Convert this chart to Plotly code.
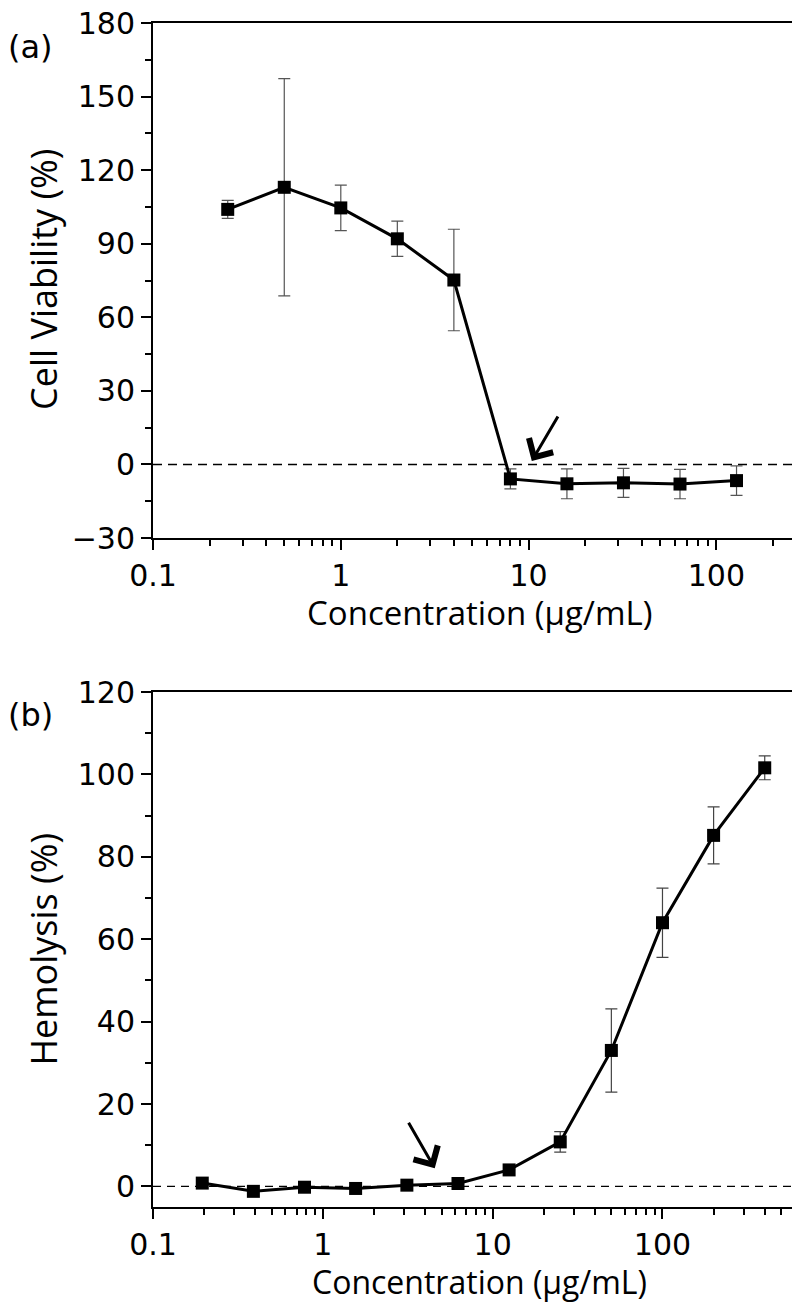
import numpy as np
import plotly.graph_objects as go

# ---------------- data ----------------
# (a) cell viability
conc_a = [0.25, 0.5, 1, 2, 4, 8, 16, 32, 64, 128]
viab = [104, 113, 104.6, 92, 75.2, -5.9, -7.9, -7.5, -8.0, -6.6]
viab_err = [3.7, 44.3, 9.3, 7.2, 20.7, 4.1, 6.1, 5.9, 6.0, 6.0]

# (b) hemolysis
conc_b = [0.195, 0.39, 0.78, 1.56, 3.125, 6.25, 12.5, 25, 50, 100, 200, 400]
hemo = [0.8, -1.2, -0.2, -0.5, 0.3, 0.7, 4.0, 10.8, 33.0, 64.0, 85.2, 101.6]
hemo_err = [0, 0, 0, 0, 0, 0, 0, 2.5, 10.1, 8.4, 6.9, 2.9]

x_tickvals = [0.1, 1, 10, 100]
x_ticktext = ["0.1", "1", "10", "100"]

TICK_FONT = dict(family="DejaVu Sans, Liberation Sans, sans-serif", size=30, color="black")
XTITLE_FONT = dict(family="Open Sans, Noto Sans, sans-serif", size=33, color="black")
XTITLE_FONT_B = dict(family="Open Sans, Noto Sans, sans-serif", size=32, color="black")
YTITLE_FONT = dict(family="Open Sans, Noto Sans, sans-serif", size=36, color="black")
PANEL_FONT = dict(family="DejaVu Sans, Liberation Sans, sans-serif", size=32, color="black")

W, H = 800, 1303
ML, MR, MT, MB = 145, 2, 15, 104
PW, PH = W - ML - MR, H - MT - MB


def px_x(px):
    return (px - ML) / PW


def px_y(py):
    return (H - MB - py) / PH


fig = go.Figure()

common_trace = dict(
    mode="lines+markers",
    line=dict(color="black", width=3),
    marker=dict(symbol="square", size=13, color="black"),
    showlegend=False,
)

fig.add_trace(go.Scatter(
    x=conc_a, y=viab,
    error_y=dict(type="data", array=viab_err, visible=True, color="#555", thickness=1.2, width=6),
    xaxis="x", yaxis="y", **common_trace))

fig.add_trace(go.Scatter(
    x=conc_b, y=hemo,
    error_y=dict(type="data", array=hemo_err, visible=True, color="#444", thickness=1.2, width=6),
    xaxis="x2", yaxis="y2", **common_trace))

ax_common = dict(
    showline=True, linecolor="black", linewidth=2, mirror=True,
    ticks="outside", ticklen=10, tickwidth=2, tickcolor="black",
    showgrid=False, zeroline=False, tickfont=TICK_FONT, automargin=False,
    ticklabeloverflow="allow",
)

BOT_TOP, BOT_BOTTOM = 684, 1199
top_dom = [px_y(530), px_y(15)]
bot_dom = [px_y(BOT_BOTTOM), px_y(BOT_TOP)]

minor_x = dict(ticks="outside", ticklen=6, tickwidth=2, tickcolor="black", dtick="D1")

fig.update_layout(
    width=W, height=H,
    margin=dict(l=ML, r=MR, t=MT, b=MB, autoexpand=False),
    paper_bgcolor="white", plot_bgcolor="white",
    xaxis=dict(type="log", range=[-1, np.log10(300)], domain=[0, 1], anchor="y",
               tickvals=x_tickvals, ticktext=x_ticktext, minor=minor_x, **ax_common),
    yaxis=dict(range=[-30, 180], domain=top_dom, anchor="x", dtick=30, tick0=0,
               minor=dict(ticks="outside", ticklen=6, tickwidth=2, tickcolor="black", dtick=15),
               **ax_common),
    xaxis2=dict(type="log", range=[-1, np.log10(700)], domain=[0, 1], anchor="y2",
                tickvals=x_tickvals, ticktext=x_ticktext, minor=minor_x, **ax_common),
    yaxis2=dict(range=[-5, 120], domain=bot_dom, anchor="x2", dtick=20, tick0=0,
                minor=dict(ticks="outside", ticklen=6, tickwidth=2, tickcolor="black", dtick=10),
                **ax_common),
)

# dashed zero lines
fig.add_shape(type="line", xref="x domain", yref="y", x0=0, x1=1, y0=0, y1=0,
              line=dict(color="black", width=1.6, dash="9px,6px"), layer="below")
fig.add_shape(type="line", xref="x2 domain", yref="y2", x0=0, x1=1, y0=0, y1=0,
              line=dict(color="black", width=1.4, dash="8px,6px"), layer="below")

# arrows
fig.add_annotation(xref="x", yref="y", x=np.log10(10.4), y=1.4, ax=27, ay=-46,
                   showarrow=True, arrowhead=4, arrowsize=1.8, arrowwidth=3,
                   arrowcolor="black", text="")
fig.add_annotation(xref="x2", yref="y2", x=np.log10(4.56), y=4.4, ax=-27, ay=-47,
                   showarrow=True, arrowhead=4, arrowsize=1.8, arrowwidth=3,
                   arrowcolor="black", text="")

# axis titles
fig.add_annotation(xref="paper", yref="paper", x=0.5, y=px_y(604), xanchor="center", yanchor="middle",
                   text="Concentration (μg/mL)", showarrow=False, font=XTITLE_FONT)
fig.add_annotation(xref="paper", yref="paper", x=0.5, y=px_y(1273), xanchor="center", yanchor="middle",
                   text="Concentration (μg/mL)", showarrow=False, font=XTITLE_FONT_B)
fig.add_annotation(xref="paper", yref="paper", x=px_x(35), y=px_y(272), xanchor="center", yanchor="middle",
                   text="Cell Viability (%)", textangle=-90, showarrow=False, font=YTITLE_FONT)
fig.add_annotation(xref="paper", yref="paper", x=px_x(35), y=px_y((BOT_TOP + BOT_BOTTOM) / 2),
                   xanchor="center", yanchor="middle",
                   text="Hemolysis (%)", textangle=-90, showarrow=False, font=YTITLE_FONT)

# panel labels
fig.add_annotation(xref="paper", yref="paper", x=px_x(-2), y=px_y(39),
                   xanchor="left", yanchor="middle", text="(a)", showarrow=False, font=PANEL_FONT)
fig.add_annotation(xref="paper", yref="paper", x=px_x(-2), y=px_y(BOT_TOP + 23),
                   xanchor="left", yanchor="middle", text="(b)", showarrow=False, font=PANEL_FONT)

fig.write_html("out.html")
